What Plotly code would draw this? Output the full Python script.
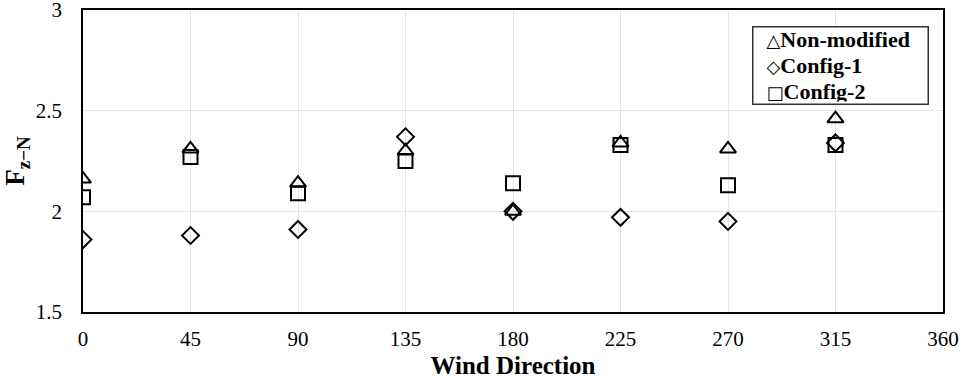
import plotly.graph_objects as go

wind_direction = [0, 45, 90, 135, 180, 225, 270, 315]
non_modified = [2.16, 2.31, 2.14, 2.30, 2.00, 2.34, 2.31, 2.46]
config_1 = [1.86, 1.88, 1.91, 2.37, 2.00, 1.97, 1.95, 2.34]
config_2 = [2.07, 2.27, 2.09, 2.25, 2.14, 2.33, 2.13, 2.33]

series_names = ["Non-modified", "Config-1", "Config-2"]
legend_glyphs = ["\u25B3", "\u25C7", "\u25A1"]

x_ticks = [0, 45, 90, 135, 180, 225, 270, 315, 360]
y_ticks = [1.5, 2, 2.5, 3]

font_family = "Liberation Serif, Times New Roman, serif"

fig = go.Figure()
fig.add_trace(go.Scatter(x=wind_direction, y=non_modified, mode="markers", name=series_names[0],
                         marker=dict(symbol="triangle-up-open", size=14, color="black", line=dict(width=2, color="black"))))
fig.add_trace(go.Scatter(x=wind_direction, y=config_1, mode="markers", name=series_names[1],
                         marker=dict(symbol="diamond-open", size=13, color="black", line=dict(width=2, color="black"))))
fig.add_trace(go.Scatter(x=wind_direction, y=config_2, mode="markers", name=series_names[2],
                         marker=dict(symbol="square-open", size=14, color="black", line=dict(width=2, color="black"))))

legend_text = "<br>".join(
    f"<span style='font-size:22px'>\u2002</span>"
    f"<span style='font-family:DejaVu Sans;font-size:18px'>{g}</span>"
    f"<span style='font-size:22px'><b>{n}</b></span>"
    for g, n in zip(legend_glyphs, series_names)
)

fig.add_annotation(
    xref="paper", yref="paper", x=0.778, y=0.947, xanchor="left", yanchor="top",
    text=legend_text, showarrow=False, align="left", valign="middle",
    font=dict(family=font_family, size=20, color="black"),
    bordercolor="#333", borderwidth=1.5, borderpad=2, bgcolor="white",
    width=170, height=72,
)

fig.update_layout(
    width=962, height=379,
    margin=dict(l=83, r=19, t=10, b=67),
    paper_bgcolor="white", plot_bgcolor="white",
    font=dict(family=font_family, size=21, color="black"),
    showlegend=False,
    xaxis=dict(range=[0, 360], tickvals=x_ticks, ticktext=[str(t) for t in x_ticks],
               showgrid=True, gridcolor="#e3e3e3", gridwidth=1,
               showline=True, linecolor="black", linewidth=1.5, mirror=True,
               ticks="", zeroline=False, automargin=False, ticklabelstandoff=7,
               ticklabeloverflow="allow",
               title=dict(text="<b>Wind Direction</b>", font=dict(size=25), standoff=9)),
    yaxis=dict(range=[1.5, 3], tickvals=y_ticks, ticktext=["1.5", "2", "2.5", "3"],
               showgrid=True, gridcolor="#e3e3e3", gridwidth=1,
               showline=True, linecolor="black", linewidth=1.5, mirror=True,
               ticks="", zeroline=False, automargin=False, ticklabelstandoff=15,
               ticklabeloverflow="allow",
               title=dict(text="<b>F<sub>z\u2212N</sub></b>", font=dict(size=27), standoff=11)),
)

fig.write_html("out.html", config={"displayModeBar": False},
               post_script="document.body.style.margin='0';")
